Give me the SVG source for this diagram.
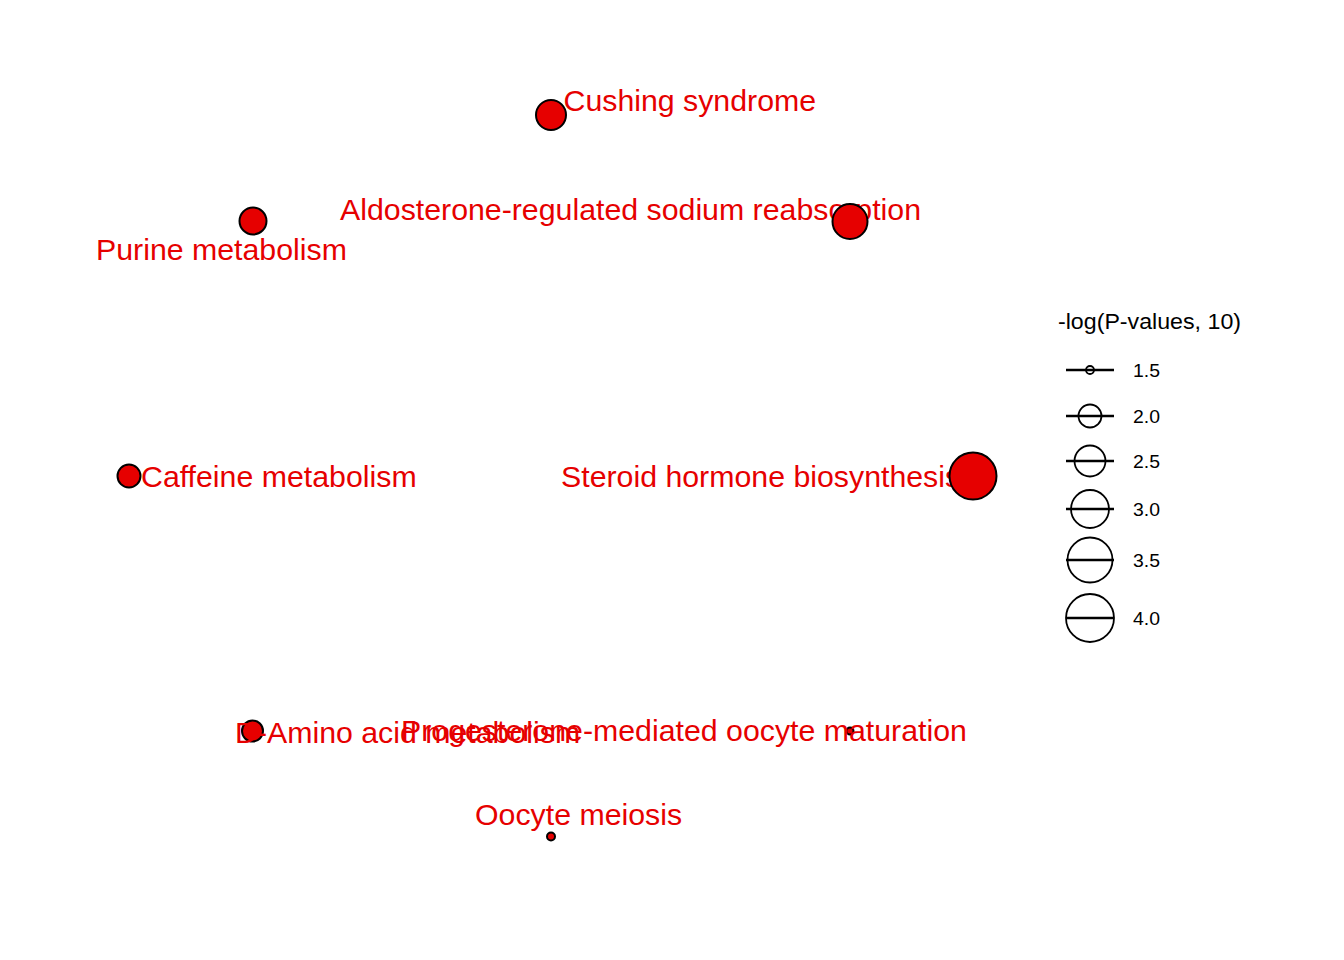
<svg xmlns="http://www.w3.org/2000/svg" width="1344" height="960" viewBox="0 0 1344 960">
<style>
.lbl{font-family:"Liberation Sans",Arial,Helvetica,sans-serif;font-size:30.3px;fill:#e60000}
.node{fill:#e60000;stroke:#000;stroke-width:2}
.lg{font-family:"Liberation Sans",Arial,Helvetica,sans-serif;fill:#000}
.lgc{fill:none;stroke:#000;stroke-width:1.8}
.lgl{stroke:#000;stroke-width:2.6}
</style>
<rect width="1344" height="960" fill="#fff"/>
<g id="connectors"></g>
<g id="node-cushing">
<circle class="node" cx="551" cy="115" r="15"/>
<text class="lbl" x="563.5" y="111">Cushing syndrome</text>
</g>
<g id="node-purine">
<circle class="node" cx="253" cy="221" r="13.5"/>
<text class="lbl" x="96" y="260">Purine metabolism</text>
</g>
<g id="node-aldosterone">
<text class="lbl" x="340" y="220">Aldosterone-regulated sodium reabsorption</text>
<circle class="node" cx="850" cy="221.5" r="17.5"/>
</g>
<g id="node-caffeine">
<circle class="node" cx="129" cy="476" r="11.5"/>
<text class="lbl" x="141" y="487">Caffeine metabolism</text>
</g>
<g id="node-steroid">
<text class="lbl" x="561" y="487">Steroid hormone biosynthesis</text>
<circle class="node" cx="973" cy="476" r="23.5"/>
</g>
<g id="node-damino">
<circle class="node" cx="252.5" cy="731" r="10.5"/>
<text class="lbl" x="235" y="743">D-Amino acid metabolism</text>
</g>
<g id="node-progesterone">
<circle class="node" cx="850" cy="731" r="3.5" stroke-width="1.5"/>
<text class="lbl" x="401" y="741">Progesterone-mediated oocyte maturation</text>
</g>
<g id="node-oocyte">
<circle class="node" cx="551" cy="836.5" r="4" stroke-width="1.5"/>
<text class="lbl" x="475" y="825">Oocyte meiosis</text>
</g>
<g id="legend">
<text class="lg" x="1058" y="329" font-size="22.5" textLength="183" lengthAdjust="spacingAndGlyphs">-log(P-values, 10)</text>
<line class="lgl" x1="1066" y1="370" x2="1114" y2="370"/>
<circle class="lgc" cx="1090" cy="370" r="4"/>
<text class="lg" x="1133" y="377" font-size="19" textLength="27" lengthAdjust="spacingAndGlyphs">1.5</text>
<line class="lgl" x1="1066" y1="416" x2="1114" y2="416"/>
<circle class="lgc" cx="1090" cy="416" r="11.5"/>
<text class="lg" x="1133" y="423" font-size="19" textLength="27" lengthAdjust="spacingAndGlyphs">2.0</text>
<line class="lgl" x1="1066" y1="461" x2="1114" y2="461"/>
<circle class="lgc" cx="1090" cy="461" r="15.5"/>
<text class="lg" x="1133" y="468" font-size="19" textLength="27" lengthAdjust="spacingAndGlyphs">2.5</text>
<line class="lgl" x1="1066" y1="509" x2="1114" y2="509"/>
<circle class="lgc" cx="1090" cy="509" r="19"/>
<text class="lg" x="1133" y="516" font-size="19" textLength="27" lengthAdjust="spacingAndGlyphs">3.0</text>
<line class="lgl" x1="1066" y1="560" x2="1114" y2="560"/>
<circle class="lgc" cx="1090" cy="560" r="22.5"/>
<text class="lg" x="1133" y="567" font-size="19" textLength="27" lengthAdjust="spacingAndGlyphs">3.5</text>
<line class="lgl" x1="1066" y1="618" x2="1114" y2="618"/>
<circle class="lgc" cx="1090" cy="618" r="24"/>
<text class="lg" x="1133" y="625" font-size="19" textLength="27" lengthAdjust="spacingAndGlyphs">4.0</text>
</g>
</svg>
